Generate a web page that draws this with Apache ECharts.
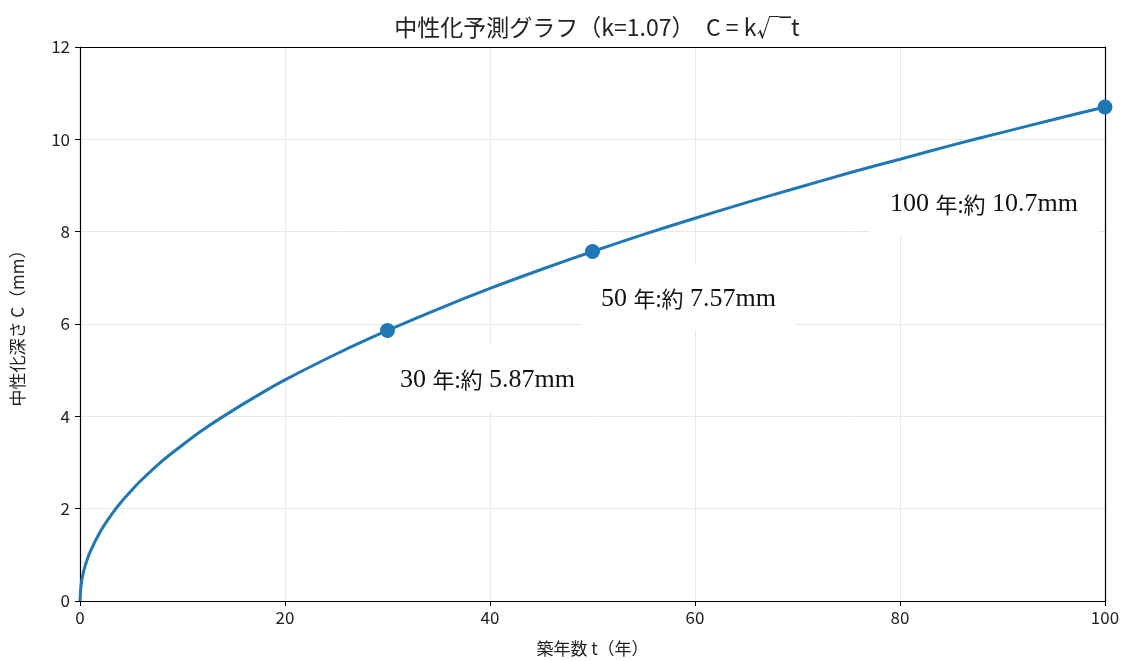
<!DOCTYPE html>
<html>
<head>
<meta charset="utf-8">
<script src="https://cdn.jsdelivr.net/npm/echarts@6/dist/echarts.min.js"></script>
<style>
  html, body { margin: 0; padding: 0; background: #fff; }
  #chart { width: 1124px; height: 661px; }
</style>
</head>
<body>
<div id="chart"></div>
<script>
// curve: years vs carbonation depth (mm)
const years = [0, 0.1, 0.25, 0.5, 1, 2, 3, 4, 5, 6, 8, 10, 12, 15, 18, 20, 25, 30, 35, 40, 45, 50, 55, 60, 65, 70, 75, 80, 85, 90, 95, 100];
const depth = [0, 0.34, 0.54, 0.76, 1.07, 1.51, 1.85, 2.14, 2.39, 2.62, 3.03, 3.38, 3.71, 4.14, 4.54, 4.79, 5.35, 5.86, 6.33, 6.77, 7.18, 7.57, 7.94, 8.29, 8.63, 8.95, 9.27, 9.57, 9.87, 10.15, 10.43, 10.7];

// highlighted points and their notes
const markYears = [30, 50, 100];
const markDepth = [5.86, 7.57, 10.7];
const markHead = ['30 ', '50 ', '100 '];
const markTail = [' 5.87mm', ' 7.57mm', ' 10.7mm'];

const xTicks = [0, 100, 20];   // min, max, step
const yTicks = [0, 12, 2];

const blue = '#1f77b4';
const sans = '"Noto Sans CJK JP", "Noto Sans", sans-serif';
const serif = '"Liberation Serif", "DejaVu Serif", "Noto Sans CJK JP", serif';

// label offsets from the marker centre (px)
const noteOffsets = [[100, 48], [96, 46], [-121, 96]];

const chart = echarts.init(document.getElementById('chart'), null, { renderer: 'canvas' });

const frameAxis = {
  show: true,
  axisLine: { show: true, onZero: false, lineStyle: { color: '#000', width: 1.2 } },
  axisTick: { show: false },
  axisLabel: { show: false },
  splitLine: { show: false }
};

chart.setOption({
  animation: false,
  backgroundColor: '#fff',
  title: {
    text: '中性化予測グラフ（k=1.07）　C = k√‾t',
    left: 592,
    textAlign: 'center',
    top: 11,
    textStyle: { fontFamily: sans, fontSize: 23, fontWeight: 'normal', color: '#222' }
  },
  grid: { left: 80, right: 19, top: 47, bottom: 60, containLabel: false, outerBoundsMode: 'none' },
  xAxis: [{
    type: 'value',
    min: xTicks[0], max: xTicks[1], interval: xTicks[2],
    name: '築年数 t（年）',
    nameLocation: 'middle',
    nameGap: 39,
    nameTextStyle: { fontFamily: sans, fontSize: 17, color: '#222' },
    axisLine: { show: true, onZero: false, lineStyle: { color: '#000', width: 1.2 } },
    axisTick: { show: true, length: 5, lineStyle: { color: '#000' } },
    axisLabel: { fontFamily: sans, fontSize: 17, color: '#222', margin: 8 },
    splitLine: { show: true, lineStyle: { color: '#e8e8e8', width: 1 } }
  }, Object.assign({ type: 'value', position: 'top', min: xTicks[0], max: xTicks[1] }, frameAxis)],
  yAxis: [{
    type: 'value',
    min: yTicks[0], max: yTicks[1], interval: yTicks[2],
    name: '中性化深さ C（mm）',
    nameLocation: 'middle',
    nameGap: 54,
    nameRotate: 90,
    nameTextStyle: { fontFamily: sans, fontSize: 17, color: '#222' },
    axisLine: { show: true, onZero: false, lineStyle: { color: '#000', width: 1.2 } },
    axisTick: { show: true, length: 5, lineStyle: { color: '#000' } },
    axisLabel: { fontFamily: sans, fontSize: 17, color: '#222', margin: 10 },
    splitLine: { show: true, lineStyle: { color: '#e8e8e8', width: 1 } }
  }, Object.assign({ type: 'value', position: 'right', min: yTicks[0], max: yTicks[1] }, frameAxis)],
  series: [
    {
      type: 'line',
      data: years.map((t, i) => [t, depth[i]]),
      smooth: 0.3,
      showSymbol: false,
      lineStyle: { color: blue, width: 3 },
      z: 2
    },
    {
      type: 'scatter',
      data: markYears.map((t, i) => ({
        value: [t, markDepth[i]],
        label: {
          show: true,
          position: 'inside',
          offset: noteOffsets[i],
          formatter: markHead[i] + '{j|年:約}' + markTail[i]
        }
      })),
      symbolSize: 15,
      itemStyle: { color: blue, opacity: 1 },
      label: {
        fontFamily: serif,
        fontSize: 26,
        color: '#111',
        backgroundColor: '#fff',
        padding: [21, 20, 18, 20],
        rich: {
          j: { fontFamily: sans, fontSize: 22, color: '#111' }
        }
      },
      z: 5
    }
  ]
});
</script>
</body>
</html>
